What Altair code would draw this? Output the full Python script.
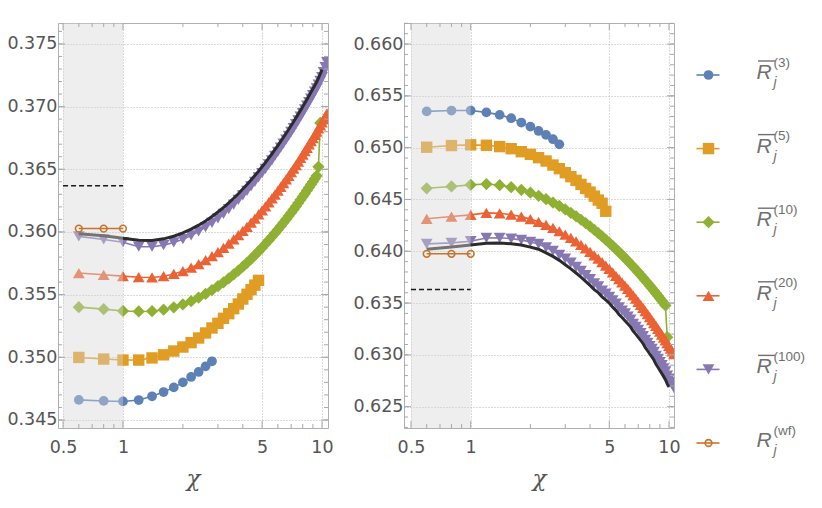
import altair as alt
import pandas as pd

# ---------------- data ----------------
X_STEPS = [0.6, 0.8, 1.0, 1.2, 1.4, 1.6, 1.8, 2.0, 2.2, 2.4, 2.6, 2.8, 3.0, 3.2, 3.4,
           3.6, 3.8, 4.0, 4.2, 4.4, 4.6, 4.8, 5.0, 5.2, 5.4, 5.6, 5.8, 6.0, 6.2, 6.4,
           6.6, 6.8, 7.0, 7.2, 7.4, 7.6, 7.8, 8.0, 8.2, 8.4, 8.6, 8.8, 9.0, 9.2, 9.4,
           9.6, 9.8, 10.0, 10.2, 10.4, 10.6]

SERIES = ["R3", "R5", "R10", "R20", "R100"]
SUPS = ["(3)", "(5)", "(10)", "(20)", "(100)", "(wf)"]
COLORS = ["#5e81b5", "#e19c24", "#8fb032", "#eb6235", "#8778b3"]
SHAPES = ["circle", "square", "diamond", "triangle-up", "triangle-down"]
SIZES = [95, 130, 150, 140, 140]
WF_COLOR = "#c8732a"
BLACK = "#2b2b2b"

# left panel
L_R3 = [0.34660, 0.34652, 0.34648, 0.34659, 0.34689, 0.34723, 0.34760, 0.34800,
        0.34843, 0.34883, 0.34928, 0.34968]
L_R5 = [0.34999, 0.34986, 0.34978, 0.34978, 0.34995, 0.35020, 0.35050, 0.35082,
        0.35117, 0.35154, 0.35194, 0.35234, 0.35271, 0.35311, 0.35348, 0.35388,
        0.35425, 0.35465, 0.35503, 0.35540, 0.35576, 0.35614]
L_R10 = [0.35400, 0.35384, 0.35370, 0.35366, 0.35368, 0.35380, 0.35399, 0.35422,
         0.35448, 0.35477, 0.35506, 0.35536, 0.35567, 0.35598, 0.35629, 0.35661,
         0.35692, 0.35723, 0.35754, 0.35784, 0.35815, 0.35845, 0.35874, 0.35904,
         0.35933, 0.35962, 0.35990, 0.36018, 0.36046, 0.36073, 0.36100, 0.36127,
         0.36153, 0.36179, 0.36205, 0.36231, 0.36256, 0.36281, 0.36305, 0.36330,
         0.36354, 0.36378, 0.36401, 0.36425, 0.36448, 0.36520, 0.36870]
L_R20 = [0.35672, 0.35658, 0.35648, 0.35639, 0.35637, 0.35647, 0.35665, 0.35688,
         0.35715, 0.35744, 0.35775, 0.35807, 0.35840, 0.35873, 0.35907, 0.35941,
         0.35974, 0.36008, 0.36041, 0.36075, 0.36107, 0.36140, 0.36172, 0.36204,
         0.36236, 0.36267, 0.36298, 0.36329, 0.36359, 0.36389, 0.36419, 0.36448,
         0.36477, 0.36506, 0.36534, 0.36562, 0.36590, 0.36617, 0.36644, 0.36671,
         0.36698, 0.36724, 0.36749, 0.36775, 0.36800, 0.36826, 0.36850, 0.36875,
         0.36899, 0.36923, 0.36947]
L_R100 = [0.35965, 0.35940, 0.35918, 0.35882, 0.35882, 0.35895, 0.35916, 0.35942,
          0.35972, 0.36004, 0.36038, 0.36073, 0.36109, 0.36145, 0.36182, 0.36219,
          0.36255, 0.36292, 0.36328, 0.36364, 0.36400, 0.36435, 0.36470, 0.36504,
          0.36539, 0.36572, 0.36606, 0.36639, 0.36672, 0.36704, 0.36736, 0.36767,
          0.36799, 0.36829, 0.36860, 0.36890, 0.36920, 0.36949, 0.36978, 0.37007,
          0.37036, 0.37064, 0.37092, 0.37119, 0.37146, 0.37176, 0.37206, 0.37236,
          0.37275, 0.37315, 0.37355]
L_BLACK = [0.35985, 0.35970, 0.35950, 0.35933, 0.35932, 0.35945, 0.35966, 0.35992,
           0.36022, 0.36054, 0.36088, 0.36123, 0.36159, 0.36195, 0.36232, 0.36269,
           0.36305, 0.36342, 0.36378, 0.36414, 0.36450, 0.36485, 0.36520, 0.36554,
           0.36589, 0.36622, 0.36656, 0.36689, 0.36722, 0.36754, 0.36786, 0.36817,
           0.36849, 0.36879, 0.36910, 0.36940, 0.36970, 0.36999, 0.37028, 0.37057,
           0.37086, 0.37114, 0.37142, 0.37169, 0.37196, 0.37228, 0.37260, 0.37295]
L_WF = [0.36027, 0.36027, 0.36027]
L_DASH = 0.36368

# right panel
R_R3 = [0.65350, 0.65358, 0.65358, 0.65340, 0.65316, 0.65284, 0.65242, 0.65203,
        0.65161, 0.65123, 0.65081, 0.65032]
R_R5 = [0.65004, 0.65020, 0.65027, 0.65023, 0.65010, 0.64990, 0.64961, 0.64935,
        0.64903, 0.64871, 0.64832, 0.64797, 0.64758, 0.64720, 0.64684, 0.64645,
        0.64606, 0.64571, 0.64532, 0.64494, 0.64463, 0.64386]
R_R10 = [0.64608, 0.64625, 0.64641, 0.64649, 0.64638, 0.64618, 0.64593, 0.64565,
         0.64535, 0.64503, 0.64470, 0.64437, 0.64404, 0.64370, 0.64337, 0.64304,
         0.64271, 0.64239, 0.64206, 0.64175, 0.64143, 0.64112, 0.64081, 0.64051,
         0.64021, 0.63992, 0.63963, 0.63934, 0.63906, 0.63878, 0.63851, 0.63823,
         0.63797, 0.63770, 0.63744, 0.63718, 0.63693, 0.63668, 0.63643, 0.63618,
         0.63594, 0.63570, 0.63546, 0.63523, 0.63500, 0.63477, 0.63170]
R_R20 = [0.64313, 0.64335, 0.64351, 0.64370, 0.64366, 0.64353, 0.64334, 0.64310,
         0.64284, 0.64255, 0.64225, 0.64193, 0.64161, 0.64128, 0.64095, 0.64062,
         0.64028, 0.63995, 0.63961, 0.63928, 0.63895, 0.63862, 0.63829, 0.63796,
         0.63763, 0.63731, 0.63699, 0.63668, 0.63636, 0.63605, 0.63574, 0.63543,
         0.63512, 0.63483, 0.63453, 0.63423, 0.63393, 0.63364, 0.63336, 0.63307,
         0.63279, 0.63251, 0.63223, 0.63195, 0.63167, 0.63140, 0.63114, 0.63086,
         0.63060, 0.63034, 0.63007]
R_R100 = [0.64071, 0.64081, 0.64097, 0.64128, 0.64130, 0.64122, 0.64110, 0.64090,
          0.64070, 0.64037, 0.64003, 0.63966, 0.63930, 0.63890, 0.63850, 0.63810,
          0.63770, 0.63730, 0.63690, 0.63660, 0.63620, 0.63590, 0.63560, 0.63525,
          0.63495, 0.63458, 0.63428, 0.63400, 0.63370, 0.63340, 0.63300, 0.63270,
          0.63240, 0.63210, 0.63180, 0.63145, 0.63115, 0.63085, 0.63058, 0.63028,
          0.62990, 0.62960, 0.62930, 0.62900, 0.62870, 0.62840, 0.62800, 0.62770,
          0.62740, 0.62710, 0.62680]
R_BLACK = [0.64020, 0.64040, 0.64060, 0.64078, 0.64080, 0.64072, 0.64060, 0.64040,
           0.64020, 0.63985, 0.63950, 0.63912, 0.63870, 0.63830, 0.63790, 0.63750,
           0.63710, 0.63670, 0.63630, 0.63600, 0.63560, 0.63530, 0.63500, 0.63460,
           0.63430, 0.63390, 0.63360, 0.63330, 0.63300, 0.63270, 0.63230, 0.63200,
           0.63170, 0.63140, 0.63110, 0.63070, 0.63040, 0.63010, 0.62980, 0.62950,
           0.62910, 0.62880, 0.62850, 0.62820, 0.62790, 0.62760, 0.62720, 0.62690]
R_WF = [0.63975, 0.63975, 0.63975]
R_DASH = 0.63630

SHADE_FROM, SHADE_TO = 0.5, 1.0
DASH_X = [0.5, 1.0]

X_MAJOR = [0.5, 1, 5, 10]
X_MINOR = [0.6, 0.7, 0.8, 0.9, 2, 3, 4, 6, 7, 8, 9]
L_Y_MAJOR = [0.345, 0.350, 0.355, 0.360, 0.365, 0.370, 0.375]
R_Y_MAJOR = [0.625, 0.630, 0.635, 0.640, 0.645, 0.650, 0.655, 0.660]
L_Y_MINOR = [round(0.345 + 0.001 * i, 3) for i in range(32)]
R_Y_MINOR = [round(0.623 + 0.001 * i, 3) for i in range(40)]

# ---------------- style ----------------
W, H = 270, 405
GAP = 76
GRID_C = "#b4b4b4"
TICK_C = "#a8a8a8"
FRAME_C = "#b0b0b0"
LAB_C = "#555555"
LEG_C = "#707070"
LABEL_FS = 17.5


def panel(vals, black, wf, dash, ydom, xdom, ymajor, yminor):
    xs = alt.Scale(type="log", domain=xdom, nice=False)
    ys = alt.Scale(domain=ydom, nice=False, zero=False)
    ax = alt.Axis(values=X_MAJOR, format="~g", title="χ", ticks=False, tickSize=0,
                  domain=False, grid=True, gridColor=GRID_C, gridDash=[1, 2], gridWidth=1,
                  labelFontSize=LABEL_FS, labelColor=LAB_C, labelPadding=10,
                  labelFlush=False, labelOverlap=False, labelFont="DejaVu Sans",
                  titleFontSize=23, titleFontStyle="italic", titleFont="DejaVu Serif",
                  titleFontWeight="normal", titleColor=LAB_C, titlePadding=12)
    ay = alt.Axis(values=ymajor, format=".3f", title=None, ticks=False, tickSize=0,
                  domain=False, grid=True, gridColor=GRID_C, gridDash=[1, 2], gridWidth=1,
                  labelFontSize=LABEL_FS, labelColor=LAB_C, labelPadding=1,
                  labelFlush=False, labelOverlap=False, labelFont="DejaVu Sans")

    def X():
        return alt.X("x:Q", scale=xs, axis=ax)

    def Y():
        return alt.Y("y:Q", scale=ys, axis=ay)

    layers = []
    for i, name in enumerate(SERIES):
        v = vals[i]
        df = pd.DataFrame({"x": X_STEPS[:len(v)], "y": v})
        base = alt.Chart(df)
        layers.append(base.mark_line(color=COLORS[i], strokeWidth=1.6, clip=True)
                      .encode(x=X(), y=Y()))
        layers.append(base.mark_point(shape=SHAPES[i], filled=True, opacity=1,
                                      color=COLORS[i], size=SIZES[i], clip=True)
                      .encode(x=X(), y=Y()))
    bdf = pd.DataFrame({"x": X_STEPS[:len(black)], "y": black})
    layers.append(alt.Chart(bdf).mark_line(color=BLACK, strokeWidth=3, clip=True)
                  .encode(x=X(), y=Y()))
    # shaded region (drawn over the series, so those points look faded)
    sdf = pd.DataFrame({"x": [SHADE_FROM], "x2": [SHADE_TO]})
    layers.append(alt.Chart(sdf).mark_rect(fill="#d6d6d6", opacity=0.42)
                  .encode(x=X(), x2="x2:Q", y=alt.value(0), y2=alt.value(H)))
    ddf = pd.DataFrame({"x": DASH_X, "y": [dash, dash]})
    layers.append(alt.Chart(ddf).mark_line(color="#1a1a1a", strokeWidth=1.5,
                                           strokeDash=[5, 3])
                  .encode(x=X(), y=Y()))
    wdf = pd.DataFrame({"x": X_STEPS[:len(wf)], "y": wf})
    layers.append(alt.Chart(wdf).mark_line(color=WF_COLOR, strokeWidth=1.5)
                  .encode(x=X(), y=Y()))
    layers.append(alt.Chart(wdf).mark_point(shape="circle", filled=False, opacity=1,
                                            color=WF_COLOR, size=45, strokeWidth=1.6)
                  .encode(x=X(), y=Y()))
    # frame ticks pointing inward
    for vals_t, ln in ((X_MAJOR, 7), (X_MINOR, 4)):
        tdf = pd.DataFrame({"x": vals_t})
        layers.append(alt.Chart(tdf).mark_rule(color=TICK_C, strokeWidth=1)
                      .encode(x=X(), y=alt.value(H), y2=alt.value(H - ln)))
        layers.append(alt.Chart(tdf).mark_rule(color=TICK_C, strokeWidth=1)
                      .encode(x=X(), y=alt.value(0), y2=alt.value(ln)))
    for vals_t, ln in ((ymajor, 7), (yminor, 4)):
        tdf = pd.DataFrame({"y": vals_t})
        layers.append(alt.Chart(tdf).mark_rule(color=TICK_C, strokeWidth=1)
                      .encode(y=Y(), x=alt.value(0), x2=alt.value(ln)))
        layers.append(alt.Chart(tdf).mark_rule(color=TICK_C, strokeWidth=1)
                      .encode(y=Y(), x=alt.value(W), x2=alt.value(W - ln)))
    return alt.layer(*layers).properties(
        width=W, height=H, view=alt.ViewBackground(stroke=FRAME_C, strokeWidth=1))


left = panel([L_R3, L_R5, L_R10, L_R20, L_R100], L_BLACK, L_WF, L_DASH,
             [0.34436, 0.37667], [0.4716, 10.72], L_Y_MAJOR, L_Y_MINOR)
right = panel([R_R3, R_R5, R_R10, R_R20, R_R100], R_BLACK, R_WF, R_DASH,
              [0.62294, 0.66203], [0.4610, 10.60], R_Y_MAJOR, R_Y_MINOR)

# ---------------- legend (its view starts GAP px right of the right panel) ----------------
leg_df = pd.DataFrame({
    "row": list(range(6)),
    "s": SERIES + ["Rwf"],
    "sup": SUPS,
    "bar": [1, 1, 1, 1, 1, 0],
})
yleg = alt.Y("row:Q", scale=alt.Scale(domain=[0, 5], range=[52, 420]), axis=None)
cscale = alt.Scale(domain=SERIES + ["Rwf"], range=COLORS + [WF_COLOR])
lb = alt.Chart(leg_df)
MK = -41.5  # marker centre relative to legend view
TX = 6.5    # left edge of the "R" glyph
leg_layers = [
    lb.mark_rule(strokeWidth=1.6).encode(
        x=alt.value(MK - 12), x2=alt.value(MK + 11), y=yleg,
        color=alt.Color("s:N", scale=cscale, legend=None)),
]
for i, name in enumerate(SERIES):
    leg_layers.append(
        lb.transform_filter(alt.datum.s == name)
        .mark_point(shape=SHAPES[i], filled=True, opacity=1, color=COLORS[i], size=SIZES[i])
        .encode(x=alt.value(MK), y=yleg))
leg_layers.append(
    lb.transform_filter(alt.datum.s == "Rwf")
    .mark_point(shape="circle", filled=False, opacity=1, color=WF_COLOR, size=45,
                strokeWidth=1.6)
    .encode(x=alt.value(MK), y=yleg))
leg_layers.append(
    lb.mark_text(align="left", baseline="middle", fontSize=21, fontStyle="italic",
                 font="Liberation Sans", color=LEG_C, dy=-2)
    .encode(x=alt.value(TX), y=yleg, text=alt.value("R")))
leg_layers.append(
    lb.transform_filter(alt.datum.bar == 1)
    .mark_rule(color=LEG_C, strokeWidth=1.4, yOffset=-14)
    .encode(x=alt.value(TX + 1.5), x2=alt.value(TX + 18.5), y=yleg))
leg_layers.append(
    lb.mark_text(align="left", baseline="middle", fontSize=13.5, font="Liberation Sans",
                 color=LEG_C, dy=-12.5)
    .encode(x=alt.value(TX + 17), y=yleg, text="sup:N"))
leg_layers.append(
    lb.mark_text(align="left", baseline="middle", fontSize=14, fontStyle="italic",
                 font="Liberation Sans", color=LEG_C, dy=8)
    .encode(x=alt.value(TX + 17), y=yleg, text=alt.value("j")))

legend = alt.layer(*leg_layers).properties(
    width=50, height=H, view=alt.ViewBackground(strokeOpacity=0))

chart = alt.hconcat(left, right, legend, spacing=GAP, bounds="flush").properties(
    padding={"left": -2, "top": 14, "right": 0, "bottom": 0}
).configure(font="DejaVu Sans")

chart.save("out.html", embed_options={"renderer": "svg", "actions": False})
